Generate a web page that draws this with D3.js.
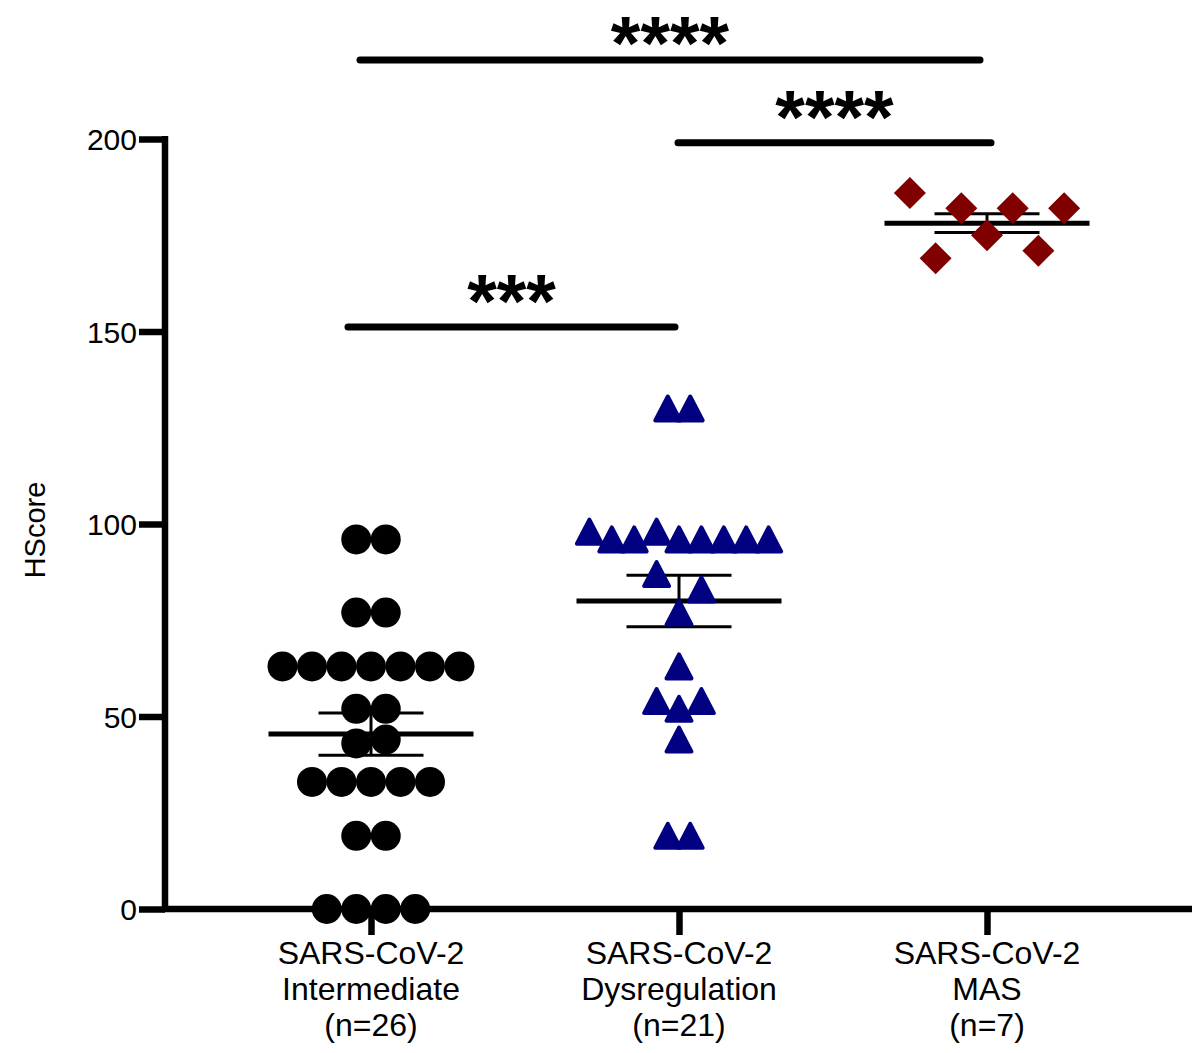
<!DOCTYPE html>
<html>
<head>
<meta charset="utf-8">
<script src="https://cdn.jsdelivr.net/npm/d3@7"></script>
<style>
  html, body { margin: 0; padding: 0; background: #fff; }
  text { font-family: "Liberation Sans", Arial, Helvetica, sans-serif; fill: #000; }
</style>
</head>
<body>
<svg id="chart" width="1203" height="1053"></svg>
<script>
// HScore per patient, listed left-to-right within each row of the scatter
const groupNames = ["Intermediate", "Dysregulation", "MAS"];
const groupPrefix = "SARS-CoV-2";
const intermediate = [96, 96, 77, 77, 63, 63, 63, 63, 63, 63, 63, 52, 52, 43, 44,
                      33, 33, 33, 33, 33, 19, 19, 0, 0, 0, 0];
const dysregulation = [130, 130, 98, 96, 96, 98, 96, 96, 96, 96, 96, 87, 77, 83,
                       63, 54, 52, 54, 44, 19, 19];
const mas = [186, 169, 182, 175, 182, 171, 182];

const yTicks = [0, 50, 100, 150, 200];
const yAxisTitle = "HScore";

// Pairwise comparisons: group indices, significance label, bracket height (HScore units)
const sigPairs = [[0, 2], [1, 2], [0, 1]];
const sigLabels = ["****", "****", "***"];
const sigLevels = [220.5, 199, 151.2];

// ---- layout -------------------------------------------------------------
const svg = d3.select("#chart");
const y = d3.scaleLinear().domain([0, 200]).range([909, 139]);
const x = d3.scalePoint().domain(groupNames).range([371, 987]);

const series = [
  { name: "Intermediate",  values: intermediate,  shape: "circle",   color: "#000000", spacing: 29.5 },
  { name: "Dysregulation", values: dysregulation, shape: "triangle", color: "#000080", spacing: 22.4 },
  { name: "MAS",           values: mas,           shape: "diamond",  color: "#800000", spacing: 25.7 }
];

// Points whose values are close share a row and are spread sideways.
function rowOffsets(values, threshold, spacing) {
  const order = d3.range(values.length).sort((a, b) => values[b] - values[a] || a - b);
  const rows = [];
  let cur = [order[0]];
  for (let i = 1; i < order.length; i++) {
    if (values[cur[cur.length - 1]] - values[order[i]] < threshold) cur.push(order[i]);
    else { rows.push(cur); cur = [order[i]]; }
  }
  rows.push(cur);
  const offs = new Array(values.length);
  rows.forEach(r => {
    r.sort((a, b) => a - b);
    r.forEach((idx, k) => { offs[idx] = (k - (r.length - 1) / 2) * spacing; });
  });
  return offs;
}

// ---- axes ---------------------------------------------------------------
const axisW = 6.5;

const yAxis = svg.append("g")
  .attr("transform", `translate(165,0)`)
  .call(d3.axisLeft(y).tickValues(yTicks).tickSize(26).tickSizeOuter(0).tickPadding(2));
yAxis.select(".domain").remove();
yAxis.selectAll(".tick line").attr("stroke", "#000").attr("stroke-width", axisW);
yAxis.selectAll(".tick text")
  .attr("font-size", 30)
  .attr("font-family", "'Liberation Sans', Arial, sans-serif")
  .attr("dy", "0.36em");
yAxis.append("line")
  .attr("x1", 0).attr("x2", 0)
  .attr("y1", y(200) - 3).attr("y2", y(0))
  .attr("stroke", "#000").attr("stroke-width", axisW);

const xAxis = svg.append("g")
  .attr("transform", `translate(0,${y(0)})`)
  .call(d3.axisBottom(x).tickSize(26).tickFormat(""));
xAxis.select(".domain").remove();
xAxis.selectAll(".tick line").attr("stroke", "#000").attr("stroke-width", axisW);
xAxis.append("line")
  .attr("x1", 165 - axisW / 2).attr("x2", 1192)
  .attr("y1", 0).attr("y2", 0)
  .attr("stroke", "#000").attr("stroke-width", axisW);

// category labels (three lines each)
series.forEach(s => {
  const lines = [groupPrefix, s.name, `(n=${s.values.length})`];
  const t = svg.append("text")
    .attr("text-anchor", "middle")
    .attr("font-size", 32);
  lines.forEach((ln, i) => {
    t.append("tspan").attr("x", x(s.name)).attr("y", 964 + i * 36).text(ln);
  });
});

svg.append("text")
  .attr("transform", `translate(45,${530}) rotate(-90)`)
  .attr("text-anchor", "middle")
  .attr("font-size", 29)
  .text(yAxisTitle);

// ---- mean ± SEM ---------------------------------------------------------
series.forEach(s => {
  const cx = x(s.name);
  const m = d3.mean(s.values);
  const sem = d3.deviation(s.values) / Math.sqrt(s.values.length);
  const g = svg.append("g").attr("stroke", "#000");
  g.append("line").attr("x1", cx).attr("x2", cx)
    .attr("y1", y(m + sem)).attr("y2", y(m - sem)).attr("stroke-width", 3);
  [m + sem, m - sem].forEach(v => {
    g.append("line").attr("x1", cx - 52.5).attr("x2", cx + 52.5)
      .attr("y1", y(v)).attr("y2", y(v)).attr("stroke-width", 3);
  });
  g.append("line").attr("x1", cx - 102.5).attr("x2", cx + 102.5)
    .attr("y1", y(m)).attr("y2", y(m)).attr("stroke-width", 5);
});

// ---- points -------------------------------------------------------------
const triPath = "M0,-12L12.5,12L-12.5,12Z";
const diaPath = "M0,-16L16,0L0,16L-16,0Z";
series.forEach(s => {
  const offs = rowOffsets(s.values, 7.5, s.spacing);
  const g = svg.append("g");
  s.values.forEach((v, i) => {
    const px = x(s.name) + offs[i], py = y(v);
    if (s.shape === "circle") {
      g.append("circle").attr("cx", px).attr("cy", py).attr("r", 15).attr("fill", s.color);
    } else if (s.shape === "triangle") {
      g.append("path").attr("d", triPath)
        .attr("transform", `translate(${px},${py})`)
        .attr("fill", s.color).attr("stroke", s.color)
        .attr("stroke-width", 4).attr("stroke-linejoin", "round");
    } else {
      g.append("path").attr("d", diaPath)
        .attr("transform", `translate(${px},${py})`)
        .attr("fill", s.color);
    }
  });
});

// ---- significance brackets ---------------------------------------------
const sigInset = [[-11, -7], [-1, 4], [-23, -4]];
const sigFont = 76;
const sigAscent = Math.ceil(sigFont * 0.905);   // keep the label's text box inside the page
sigPairs.forEach((p, i) => {
  const x1 = x(groupNames[p[0]]) + sigInset[i][0];
  const x2 = x(groupNames[p[1]]) + sigInset[i][1];
  const yy = y(sigLevels[i]);
  svg.append("line")
    .attr("x1", x1).attr("x2", x2).attr("y1", yy).attr("y2", yy)
    .attr("stroke", "#000").attr("stroke-width", 7).attr("stroke-linecap", "round");
  svg.append("text")
    .attr("x", (x1 + x2) / 2).attr("y", Math.max(yy, sigAscent))
    .attr("text-anchor", "middle")
    .attr("font-size", sigFont).attr("font-weight", "bold")
    .text(sigLabels[i]);
});
</script>
</body>
</html>
